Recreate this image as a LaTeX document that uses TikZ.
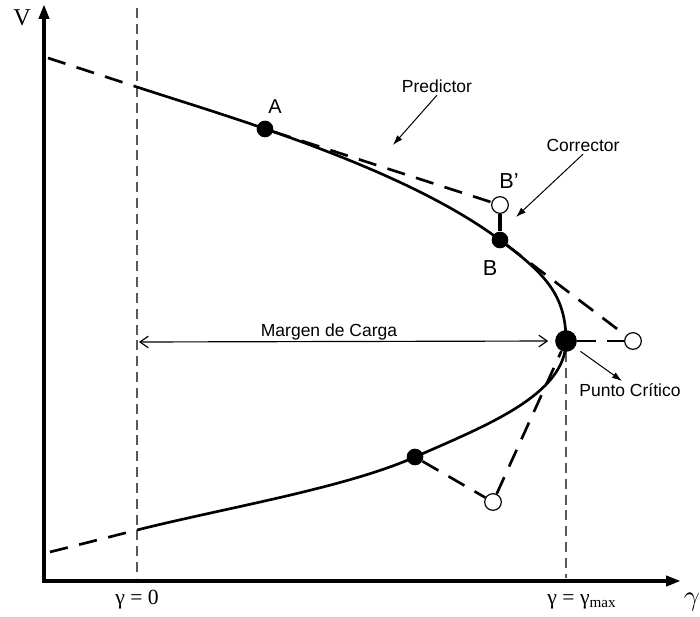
\documentclass[tikz,border=0pt]{standalone}
\usepackage{fontspec}
\setmainfont{Liberation Serif}
\setsansfont{Liberation Sans}
\usetikzlibrary{arrows.meta}
\begin{document}
\begin{tikzpicture}[x=0.6pt,y=-0.6pt,every node/.style={font=\sffamily\fontsize{10.5}{12}\selectfont,inner sep=1pt},
  filldot/.style={circle,fill,inner sep=0pt,minimum size=10pt},
  opendot/.style={circle,draw,line width=0.7pt,fill=white,inner sep=0pt,minimum size=10pt},
  serif/.style={font=\rmfamily\fontsize{13}{15}\selectfont},
  axis/.style={line width=2.4pt,line join=miter,{Triangle[length=9pt,width=6pt]}-{Triangle[length=9pt,width=6pt]}},
  curve/.style={line width=1.6pt},
  tangent/.style={line width=1.6pt,dash pattern=on 11pt off 7pt},
  guide/.style={line width=0.7pt,gray!70!black,dash pattern=on 6pt off 3.5pt},
  pointer/.style={line width=0.6pt,-{Latex[length=6pt,width=4pt]}},
  margin/.style={line width=0.7pt,{Straight Barb[length=5pt,width=7pt]}-{Straight Barb[length=5pt,width=7pt]}}]
\useasboundingbox (0,0) rectangle (700,617);
% axes and guides
\coordinate (O) at (44,581); \coordinate (Vtip) at (44,4); \coordinate (gtip) at (681,581);
\coordinate (g0top) at (137,8); \coordinate (g0bot) at (137,578); \coordinate (gmbot) at (566,578);
\coordinate (top) at (137,87); \coordinate (bot) at (137,530);
\coordinate (ltop) at (48,58); \coordinate (lbot) at (50,552);
\coordinate (mleft) at (139,342);
\coordinate (predtip) at (393,145); \coordinate (corrtip) at (516,217); \coordinate (pctip) at (622,381);
\draw[axis] (Vtip) -- (O) -- (gtip);
\draw[guide] (g0top) -- (g0bot);
% points on the curve
\node[filldot] (A) at (265,129) {}; \node[filldot] (B) at (500,240) {};
\node[filldot,minimum size=13pt] (crit) at (566,341) {}; \node[filldot] (C) at (415,457) {};
\node[opendot] (Bp) at (500,205) {}; \node[opendot] (Dp) at (633,341) {};
\node[opendot] (Cp) at (493,502) {};
\draw[guide] (crit) -- (gmbot);
\draw[curve] (top) .. controls (217,113.5) and (400,165) .. (B.center) .. controls (545,273.5) and (566,295) .. (crit.center)
  .. controls (566,395) and (485,426) .. (C.center) .. controls (345,488) and (227,507.5) .. (bot);
\draw[tangent] (ltop) -- (top); \draw[tangent] (lbot) -- (bot);
\draw[tangent] (A) -- (Bp); \draw[tangent] (B) -- (Dp); \draw[tangent] (crit) -- (Dp);
\draw[tangent] (C) -- (Cp); \draw[tangent] (Cp) -- (crit);
\draw[line width=2.4pt] (Bp) -- (B);
\draw[margin,shorten >=4pt] (mleft) -- (crit.west);
% labels
\node[font=\sffamily\fontsize{12}{14}\selectfont] (lblA) at (275,107) {A};
\node[font=\sffamily\fontsize{13}{15}\selectfont] (lblBp) at (509,181) {B'};
\node[font=\sffamily\fontsize{13}{15}\selectfont] (lblB) at (490,268) {B};
\node[anchor=base] (lblMargen) at (329,337) {Margen de Carga};
\node[anchor=base] (lblPred) at (437,93) {Predictor};
\node[anchor=base] (lblCorr) at (583,152) {Corrector};
\node[anchor=base] (lblPC) at (630,397) {Punto Crítico};
\draw[pointer] (lblPred.south) -- (predtip); \draw[pointer] (lblCorr.south) -- (corrtip);
\draw[pointer,shorten <=4pt] (crit) -- (pctip);
\node[serif,font=\rmfamily\fontsize{14.5}{16}\selectfont] (lblV) at (22,18) {V};
\node[serif,anchor=base] (lblg0) at (137,605) {γ = 0};
\node[serif,anchor=base] (lblgmax) at (582,605) {γ = γ\textsubscript{max}};
\node[anchor=base,font=\fontsize{18}{20}\selectfont] (lblg) at (692,606) {$\gamma$};
\end{tikzpicture}
\end{document}
